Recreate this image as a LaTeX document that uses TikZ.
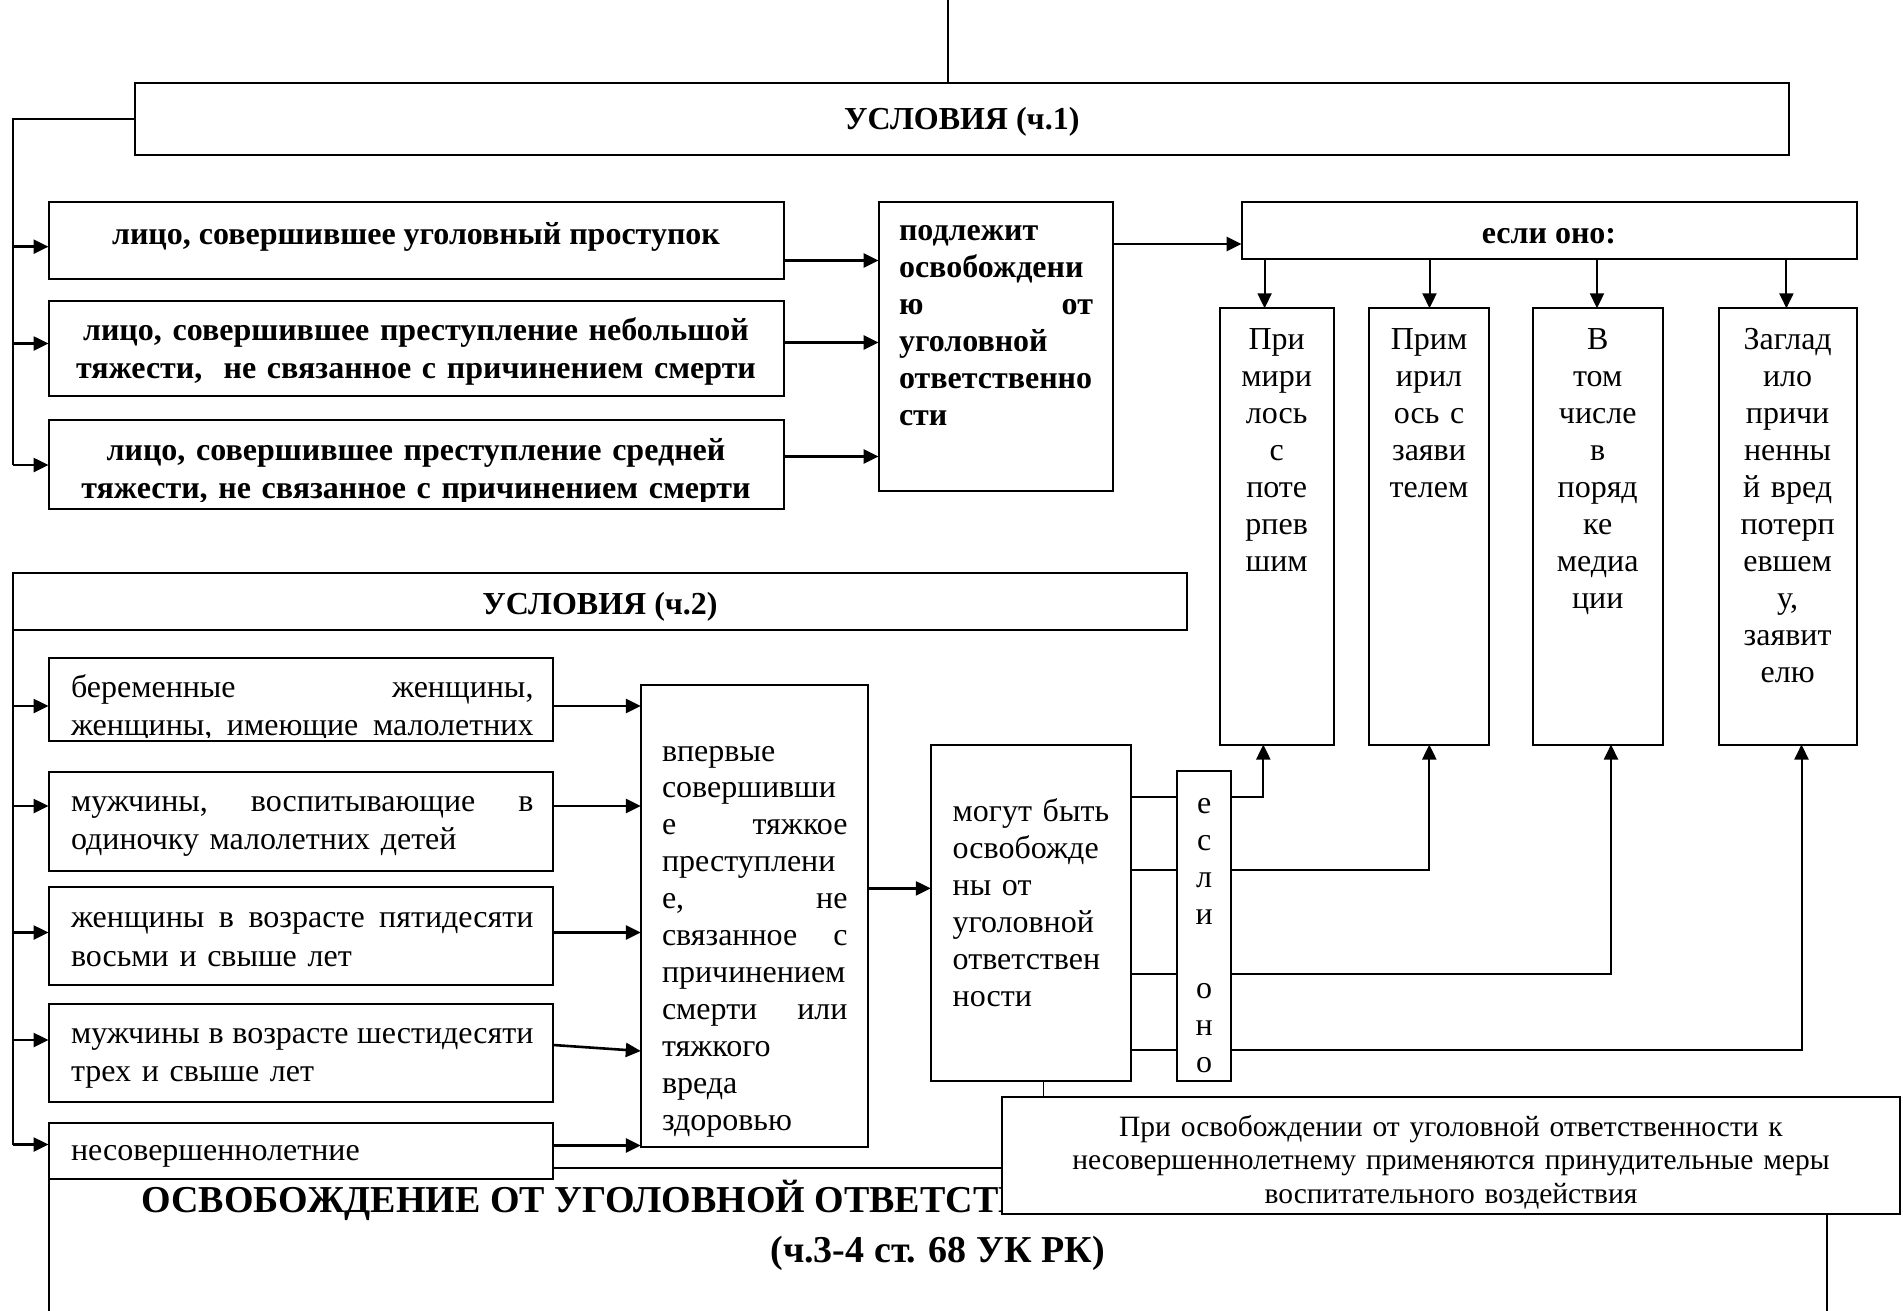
\documentclass[tikz,border=0pt]{standalone}
\usepackage{fontspec}
\setmainfont{Liberation Serif}
\usetikzlibrary{arrows.meta}
\newcommand\mkbox[6][]{\node[bx,#1,minimum width={#5pt-#3pt},minimum height={#6pt-#4pt}] (#2) at (#3,#4) {};}
\tikzset{
 bx/.style={draw,line width=2pt,fill=white,inner sep=0pt,outer sep=0pt,anchor=north west},
 ln/.style={line width=2pt},
 ar/.style={line width=2.6pt,-{Triangle[length=15pt,width=14pt]}},
 art/.style={line width=2pt,-{Triangle[length=15pt,width=14pt]}},
 fb/.style={font=\fontsize{32}{37}\selectfont\bfseries,inner sep=0pt,outer sep=0pt},
 fn/.style={font=\fontsize{32}{37}\selectfont,inner sep=0pt,outer sep=0pt},
}
\begin{document}
\begin{tikzpicture}[x=1pt,y=-1pt]
\useasboundingbox (0,0) rectangle (1903,1310);
% big bottom box and title
\mkbox{big}{48.5}{1167.5}{1826.7}{1400}
\node[anchor=base west,inner sep=0pt,font=\fontsize{38}{44}\selectfont\bfseries] (tt1) at (141,1212.5) {ОСВОБОЖДЕНИЕ ОТ УГОЛОВНОЙ ОТВЕТСТВЕННОСТИ};
\node[anchor=base,inner sep=0pt,font=\fontsize{38}{44}\selectfont\bfseries] (tt2) at (937.6,1262) {(ч.3-4 ст. 68 УК РК)};
% top part
\mkbox{u1}{134.7}{82.5}{1788.9}{154.5}
\node[fb,anchor=base] (tu1) at (961.8,129) {УСЛОВИЯ (ч.1)};
\mkbox{A}{48.5}{201.5}{784}{278.5}
\mkbox{B}{48.5}{301}{784}{395.6}
\mkbox{C}{48.5}{420}{784}{508.5}
\node[fb,anchor=base] (tA) at (416,244.5) {лицо, совершившее уголовный проступок};
\node[fb,anchor=base,text width=730pt,align=center,font=\fontsize{32}{38}\selectfont\bfseries] (tB) at (416,340) {лицо, совершившее преступление небольшой\\тяжести,\ \ не связанное с причинением смерти};
\begin{scope}
\clip (C.north west) rectangle ([yshift=7.5pt]C.south east);
\node[fb,anchor=base,text width=730pt,align=center,font=\fontsize{32}{38}\selectfont\bfseries] (tC) at (416,460) {лицо, совершившее преступление средней\\тяжести, не связанное с причинением смерти};
\end{scope}
\mkbox{pod}{878.6}{201.5}{1112.9}{490.5}
\node[fb,anchor=base west,text width=194pt,align=left] (tpod) at (899,240) {подлежит\\освобождени\\ю\hfill от\\уголовной\\ответственно\\сти};
\mkbox{esl}{1241.5}{201.5}{1856.8}{258.5}
\node[fb,anchor=base] (tesl) at (1549,243) {если оно:};
\mkbox{P1}{1219.7}{308.3}{1333.7}{744.5}
\mkbox{P2}{1369}{308.3}{1489}{744.5}
\mkbox{P3}{1532.8}{308.3}{1662.6}{744.5}
\mkbox{P4}{1718.5}{308.3}{1856.8}{744.5}
\node[fn,anchor=base,text width=110pt,align=center] (tP1) at (1276.7,349.5) {При\\мири\\лось\\с\\поте\\рпев\\шим};
\node[fn,anchor=base,text width=116pt,align=center] (tP2) at (1429,349.5) {Прим\\ирил\\ось с\\заяви\\телем};
\node[fn,anchor=base,text width=126pt,align=center] (tP3) at (1597.7,349.5) {В\\том\\числе\\в\\поряд\\ке\\медиа\\ции};
\node[fn,anchor=base,text width=134pt,align=center] (tP4) at (1787.6,349.5) {Заглад\\ило\\причи\\ненны\\й вред\\потерп\\евшем\\у,\\заявит\\елю};
% middle part
\mkbox{u2}{13.3}{572.8}{1186.9}{629.9}
\node[fb,anchor=base] (tu2) at (600,614.5) {УСЛОВИЯ (ч.2)};
\mkbox{D}{48.5}{657.8}{553.4}{740.5}
\mkbox{E}{48.5}{771.9}{553.4}{870.5}
\mkbox{F}{48.5}{887.1}{553.4}{985.4}
\mkbox{G}{48.5}{1003.6}{553.4}{1102}
\begin{scope}
\clip (D.north west) rectangle ([yshift=3pt]D.south east);
\node[fn,anchor=base west,text width=462.5pt,align=left,font=\fontsize{32}{37.5}\selectfont] (tD) at (71,697.5) {беременные\hfill женщины,\\женщины,\hfill имеющие\hfill малолетних};
\end{scope}
\node[fn,anchor=base west,text width=462.5pt,align=left,font=\fontsize{32}{38.5}\selectfont] (tE) at (71,811) {мужчины,\hfill воспитывающие\hfill в\\одиночку малолетних детей};
\node[fn,anchor=base west,text width=462.5pt,align=left,font=\fontsize{32}{38.5}\selectfont] (tF) at (71,927.5) {женщины\hfill в\hfill возрасте\hfill пятидесяти\\восьми и свыше лет};
\node[fn,anchor=base west,text width=462.5pt,align=left,font=\fontsize{32}{38}\selectfont] (tG) at (71,1043.5) {мужчины\hfill в\hfill возрасте\hfill шестидесяти\\трех и свыше лет};
\mkbox{vp}{640.8}{684.5}{867.7}{1146.7}
\node[fn,anchor=base west,text width=185.5pt,align=left,font=\fontsize{32}{36.9}\selectfont] (tvp) at (662,761) {впервые\\совершивши\\е\hfill тяжкое\\преступлени\\е,\hfill не\\связанное\hfill с\\причинением\\смерти\hfill или\\тяжкого\\вреда\\здоровью};
\mkbox{mog}{930.8}{744.5}{1131}{1080.7}
\node[fn,anchor=base west,text width=176pt,align=left] (tmog) at (952.7,821) {могут быть\\освобожде\\ны от\\уголовной\\ответствен\\ности};
\mkbox{es2}{1177.2}{771}{1231.2}{1080.7}
\node[fn,anchor=base,text width=44pt,align=center] (tes2) at (1204.2,813) {е\\с\\л\\и\\\mbox{}\\о\\н\\о};
% lower boxes
\mkbox{H}{48.5}{1123}{553.4}{1178.7}
\node[fn,anchor=base west] (tH) at (71,1160) {несовершеннолетние};
\mkbox{note}{1001.7}{1097}{1900}{1213.5}
\node[anchor=base,inner sep=0pt,text width=880pt,align=center,font=\fontsize{29.5}{33.7}\selectfont] (tnote) at (1451,1136) {При освобождении от уголовной ответственности к\\несовершеннолетнему применяются принудительные меры\\воспитательного воздействия};
% connectors: top
\coordinate (topend) at (948,0);
\draw[line width=1.6pt] (topend) -- (topend |- u1.north);
\coordinate (k1) at (13.3,246.7);
\coordinate (k2) at (13.3,343.5);
\coordinate (k3) at (13.3,465);
\draw[ln] (u1.west) -| (k3);
\draw[ar] (k1) -- (k1 -| A.west);
\draw[ar] (k2) -- (k2 -| B.west);
\draw[ar] (k3) -- (k3 -| C.west);
\coordinate (yA) at (0,260.5);
\coordinate (yB) at (0,342.5);
\coordinate (yC) at (0,456.5);
\draw[ar] (A.east |- yA) -- (pod.west |- yA);
\draw[ar] (B.east |- yB) -- (pod.west |- yB);
\draw[ar] (C.east |- yC) -- (pod.west |- yC);
\coordinate (ye) at (0,244);
\draw[ar] (pod.east |- ye) -- (esl.west |- ye);
\coordinate (d1) at (1264.6,0);
\coordinate (d2) at (1429.5,0);
\coordinate (d3) at (1597,0);
\coordinate (d4) at (1786.4,0);
\draw[art] (esl.south -| d1) -- (P1.north -| d1);
\draw[art] (esl.south -| d2) -- (P2.north -| d2);
\draw[art] (esl.south -| d3) -- (P3.north -| d3);
\draw[art] (esl.south -| d4) -- (P4.north -| d4);
% connectors: middle
\coordinate (m1) at (13.3,706);
\coordinate (m2) at (13.3,806);
\coordinate (m3) at (13.3,932.5);
\coordinate (m4) at (13.3,1040);
\coordinate (m5) at (13.3,1144.5);
\draw[ln] (u2.south west) -- (m5);
\draw[ar] (m1) -- (m1 -| D.west);
\draw[ar] (m2) -- (m2 -| E.west);
\draw[ar] (m3) -- (m3 -| F.west);
\draw[ar] (m4) -- (m4 -| G.west);
\draw[ar] (m5) -- (m5 -| H.west);
\coordinate (g1) at (0,1045);
\coordinate (g2) at (0,1051);
\coordinate (h1) at (0,1145.5);
\draw[ar] (D.east |- m1) -- (vp.west |- m1);
\draw[ar] (E.east |- m2) -- (vp.west |- m2);
\draw[ar] (F.east |- m3) -- (vp.west |- m3);
\draw[ar] (G.east |- g1) -- (vp.west |- g2);
\draw[ar] (H.east |- h1) -- (vp.west |- h1);
\coordinate (yv) at (0,888.4);
\draw[ar] (vp.east |- yv) -- (mog.west |- yv);
\coordinate (c1) at (1263.3,796.7);
\coordinate (c2) at (1429.3,869.5);
\coordinate (c3) at (1611,974);
\coordinate (c4) at (1801.5,1050);
\draw[ln] (mog.east |- c1) -- (es2.west |- c1);
\draw[ln] (mog.east |- c2) -- (es2.west |- c2);
\draw[ln] (mog.east |- c3) -- (es2.west |- c3);
\draw[ln] (mog.east |- c4) -- (es2.west |- c4);
\draw[art] (es2.east |- c1) -| (c1 |- P1.south);
\draw[art] (es2.east |- c2) -| (c2 |- P2.south);
\draw[art] (es2.east |- c3) -| (c3 |- P3.south);
\draw[art] (es2.east |- c4) -| (c4 |- P4.south);
\coordinate (sv) at (1043.3,0);
\draw[line width=1.6pt] (mog.south -| sv) -- (note.north -| sv);
\end{tikzpicture}
\end{document}
